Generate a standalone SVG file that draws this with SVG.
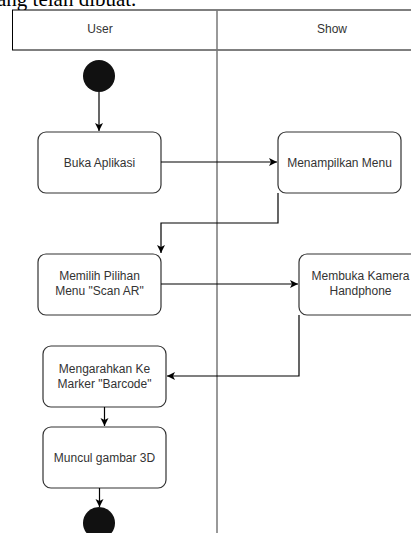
<svg xmlns="http://www.w3.org/2000/svg" width="411" height="533" viewBox="0 0 411 533">
<defs>
<marker id="arr" markerWidth="9" markerHeight="9" refX="8" refY="4.5" orient="auto" markerUnits="userSpaceOnUse">
<path d="M0,0.5 L8,4.5 L0,8.5 L2,4.5 Z" fill="#000"/>
</marker>
</defs>
<style>
.box{fill:#fff;stroke:#333;stroke-width:1.2}
.lbl{font-family:"Liberation Sans",Arial,sans-serif;font-size:12px;fill:#333;text-anchor:middle}
.c{fill:none;stroke:#000;stroke-width:1.2}
.dot{fill:#111}
</style>
<rect width="411" height="533" fill="#fff"/>
<text x="-3" y="6" font-family="Liberation Serif,serif" font-size="21" fill="#000">ang telah dibuat.</text>
<g id="swimlane">
<rect x="12.5" y="10" width="410" height="40" fill="#fff" stroke="#000" stroke-width="1"/>
<line x1="217" y1="10" x2="217" y2="533" stroke="#777" stroke-width="1.5"/>
<text class="lbl" x="100" y="33">User</text>
<text class="lbl" x="332" y="33">Show</text>
</g>
<g id="start"><circle class="dot" cx="99" cy="76" r="16"/></g>
<g id="n1"><rect class="box" x="38" y="132" width="123" height="61" rx="8"/><text class="lbl" x="99.5" y="166.5">Buka Aplikasi</text></g>
<g id="n2"><rect class="box" x="278" y="132" width="123" height="61" rx="8"/><text class="lbl" x="339.5" y="166.5">Menampilkan Menu</text></g>
<g id="n3"><rect class="box" x="38" y="254" width="123" height="61" rx="8"/><text class="lbl" x="99.5" y="280">Memilih Pilihan</text><text class="lbl" x="99.5" y="295">Menu "Scan AR"</text></g>
<g id="n4"><rect class="box" x="299" y="254" width="123" height="61" rx="8"/><text class="lbl" x="360.5" y="280">Membuka Kamera</text><text class="lbl" x="360.5" y="295">Handphone</text></g>
<g id="n5"><rect class="box" x="43" y="346" width="123" height="61" rx="8"/><text class="lbl" x="104.5" y="373">Mengarahkan Ke</text><text class="lbl" x="104.5" y="388">Marker "Barcode"</text></g>
<g id="n6"><rect class="box" x="43" y="427" width="123" height="61" rx="8"/><text class="lbl" x="104.5" y="461.5">Muncul gambar 3D</text></g>
<g id="end"><circle class="dot" cx="99" cy="523" r="16"/></g>
<g id="connectors">
<path class="c" d="M99,92 V131" marker-end="url(#arr)"/>
<path class="c" d="M161,162 H277" marker-end="url(#arr)"/>
<path class="c" d="M278,193 V223 H161 V253" marker-end="url(#arr)"/>
<path class="c" d="M161,284 H298" marker-end="url(#arr)"/>
<path class="c" d="M299,315 V376 H167" marker-end="url(#arr)"/>
<path class="c" d="M104.5,407 V426" marker-end="url(#arr)"/>
<path class="c" d="M99.5,488 V507" marker-end="url(#arr)"/>
</g>
</svg>
